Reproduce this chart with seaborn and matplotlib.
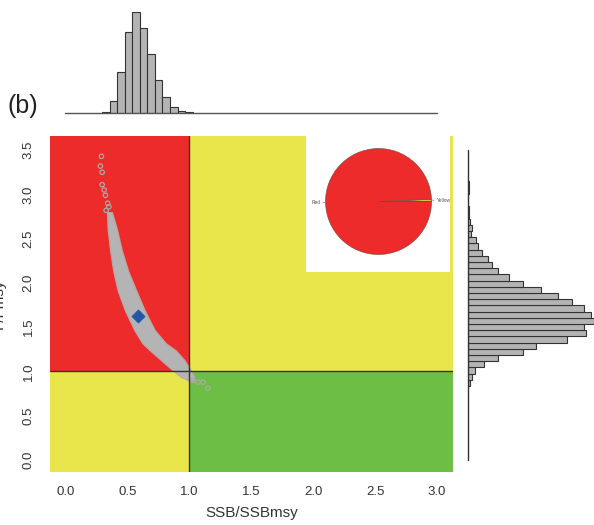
import numpy as np
import pandas as pd
import matplotlib
matplotlib.use('Agg')
import matplotlib.pyplot as plt
import seaborn as sns

# Kobe plot values
ssb_ticks = [0.0, 0.5, 1.0, 1.5, 2.0, 2.5, 3.0]
f_ticks = [0.0, 0.5, 1.0, 1.5, 2.0, 2.5, 3.0, 3.5]

# cloud of bootstrap points: outline of the dense band (F/Fmsy level, left and right SSB edge)
band_f = [0.90, 0.94, 1.02, 1.13, 1.24, 1.32, 1.47, 1.69, 1.92, 2.14, 2.37, 2.61, 2.80]
band_ssb_lo = [0.99, 0.93, 0.86, 0.77, 0.68, 0.62, 0.555, 0.48, 0.42, 0.385, 0.36, 0.34, 0.335]
band_ssb_hi = [1.03, 1.04, 1.01, 0.96, 0.89, 0.81, 0.72, 0.64, 0.57, 0.505, 0.455, 0.415, 0.375]
# stray points outside the band
out_ssb = [0.29, 0.282, 0.296, 0.296, 0.312, 0.323, 0.341, 0.35, 0.328, 1.03, 1.07, 1.11, 1.15]
out_f = [3.43, 3.32, 3.25, 3.11, 3.05, 2.99, 2.90, 2.86, 2.82, 0.90, 0.88, 0.88, 0.81]
# point estimate
est_ssb = [0.583]
est_f = [1.63]

# marginal histograms
ssb_bin_start, ssb_bin_w = 0.296, 0.0609
ssb_counts = [2, 35, 121, 243, 303, 253, 177, 97, 46, 17, 5, 3]
f_bin_start, f_bin_w = 0.835, 0.0701
f_counts = [4, 10, 21, 46, 90, 163, 205, 296, 353, 347, 378, 369, 349, 313, 271,
            220, 163, 123, 90, 71, 58, 40, 28, 22, 8, 10, 6, 3, 2, 0, 0, 1, 1]

# pie of quadrant shares
pie_labels = ['', 'Yellow', 'Red']
pie_share = [0.15, 0.5, 99.35]

RED = '#EE2B2B'
YELLOW = '#E9E64C'
GREEN = '#6CBE45'
GREY = '#B4B4B4'

sns.set_style('white')
plt.rcParams['font.family'] = ['Liberation Sans', 'DejaVu Sans']

fig = plt.figure(figsize=(5.94, 5.25), dpi=100)
ax = fig.add_axes([0.0842, 0.101, 0.6785, 0.64])
ax_top = fig.add_axes([0.0842, 0.7853, 0.6785, 0.1924])
ax_right = fig.add_axes([0.7884, 0.101, 0.2116, 0.64])

xlim = (-0.125, 3.13)
ylim = (-0.135, 3.66)

# quadrants
ax.fill_between([xlim[0], 1], 1, ylim[1], color=RED, lw=0)
ax.fill_between([xlim[0], 1], ylim[0], 1, color=YELLOW, lw=0)
ax.fill_between([1, xlim[1]], ylim[0], 1, color=GREEN, lw=0)
ax.fill_between([1, xlim[1]], 1, ylim[1], color=YELLOW, lw=0)
ax.fill_between([1.94, 3.105], 2.12, ylim[1], color='white', lw=0)
ax.axvline(1, color='#333333', lw=1)
ax.axhline(1, color='#333333', lw=1)

# cloud
ax.fill_betweenx(band_f, band_ssb_lo, band_ssb_hi, color=GREY, lw=0.8, edgecolor='#b8a8a8')
sns.scatterplot(x=out_ssb, y=out_f, ax=ax, s=10, facecolor='none',
                edgecolor='#a9a9a9', linewidth=0.9)
sns.scatterplot(x=est_ssb, y=est_f, ax=ax, marker='D', s=45, color='#2356A6',
                edgecolor='#2356A6')

ax.set_xlim(*xlim)
ax.set_ylim(*ylim)
ax.set_xticks(ssb_ticks)
ax.set_yticks(f_ticks)
ax.set_xticklabels([f'{v:.1f}' for v in ssb_ticks])
ax.set_yticklabels([f'{v:.1f}' for v in f_ticks], rotation=90, va='center')
ax.tick_params(direction='out', length=5, width=0.8, color='#444444',
               labelsize=9.5, labelcolor='#333333', pad=3)
ax.tick_params(axis='y', pad=6)
ax.tick_params(axis='x', pad=5)
for s in ax.spines.values():
    s.set_visible(False)
ax.set_xlabel('SSB/SSBmsy', fontsize=11, color='#333333', labelpad=6)
ax.set_ylabel('F/Fmsy', fontsize=11, color='#333333')
ax.yaxis.set_label_coords(-0.109, 0.5)

# top histogram
ssb_edges = ssb_bin_start + ssb_bin_w * np.arange(len(ssb_counts) + 1)
ssb_df = pd.DataFrame({'ssb': (ssb_edges[:-1] + ssb_edges[1:]) / 2, 'n': ssb_counts})
sns.histplot(data=ssb_df, x='ssb', weights='n', bins=list(ssb_edges),
             ax=ax_top, color=GREY, edgecolor='#333333', linewidth=0.8, alpha=1)
ax_top.plot([ssb_ticks[0], ssb_ticks[-1]], [0, 0], color='#555555', lw=1, clip_on=False)
ax_top.set_xlim(*xlim)
ax_top.set_ylim(0, max(ssb_counts))
ax_top.axis('off')

# right histogram
f_edges = f_bin_start + f_bin_w * np.arange(len(f_counts) + 1)
f_df = pd.DataFrame({'f': (f_edges[:-1] + f_edges[1:]) / 2, 'n': f_counts})
sns.histplot(data=f_df, y='f', weights='n', bins=list(f_edges),
             ax=ax_right, color=GREY, edgecolor='#333333', linewidth=0.8, alpha=1)
ax_right.plot([0, 0], [f_ticks[0], f_ticks[-1]], color='#333333', lw=1, clip_on=False)
ax_right.set_ylim(*ylim)
ax_right.set_xlim(0, max(f_counts))
ax_right.axis('off')

# pie inset
ax_pie = fig.add_axes([0.548, 0.5152, 0.1785, 0.2019])
wedges, _ = ax_pie.pie(pie_share, colors=[GREEN, YELLOW, RED], startangle=0,
                       wedgeprops=dict(edgecolor='#6a4a40', linewidth=0.4))
for w, lab in zip(wedges, pie_labels):
    if not lab:
        continue
    th = np.deg2rad((w.theta1 + w.theta2) / 2)
    ax_pie.plot([np.cos(th), 1.05 * np.cos(th)], [np.sin(th), 1.05 * np.sin(th)],
                color='#777777', lw=0.5, clip_on=False)
    ax_pie.text(1.1 * np.cos(th), 1.1 * np.sin(th), lab, fontsize=3.5, color='#555555',
                ha='left' if np.cos(th) > 0 else 'right', va='center')
ax_pie.set_xlim(-1, 1)
ax_pie.set_ylim(-1, 1)
ax_pie.axis('off')

fig.text(0.0125, (525 - 113) / 525, '(b)', fontsize=18, color='#222222', va='baseline')

fig.savefig('out.png', dpi=100)
